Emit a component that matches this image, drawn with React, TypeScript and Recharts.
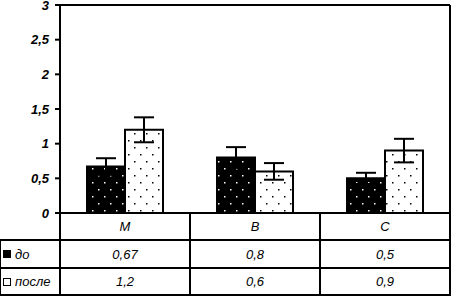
import React from 'react';
import { BarChart, Bar, XAxis, YAxis, ErrorBar, ReferenceLine } from 'recharts';

const categories = ['M', 'B', 'C'];
const beforeValues = [0.67, 0.8, 0.5];
const afterValues = [1.2, 0.6, 0.9];
const beforeErrors = [0.12, 0.15, 0.08];
const afterErrors = [0.18, 0.12, 0.17];
const yTicks = [0, 0.5, 1, 1.5, 2, 2.5, 3];
const seriesNames = ['до', 'после'];

const data = categories.map((c, i) => ({
    name: c,
    before: beforeValues[i],
    after: afterValues[i],
    beforeErr: beforeErrors[i],
    afterErr: afterErrors[i],
}));

const fmt = (v: number) => String(v).replace('.', ',');

const FONT = '"Liberation Sans", Arial, sans-serif';
const COLS = [0, 60, 190, 320, 450];
const ROWS = [213, 240, 268, 295];

const hLine = (x1: number, x2: number, y: number, key: string) => (
    <div key={key} style={{ position: 'absolute', left: x1 - 1, top: y - 1, width: x2 - x1 + 2, height: 2, background: '#000' }} />
);
const vLine = (x: number, y1: number, y2: number, key: string) => (
    <div key={key} style={{ position: 'absolute', left: x - 1, top: y1 - 1, width: 2, height: y2 - y1 + 2, background: '#000' }} />
);

const cellText = (text: string, x1: number, x2: number, y1: number, y2: number, key: string) => (
    <div key={key} style={{
        position: 'absolute', left: x1, top: y1, width: x2 - x1, height: y2 - y1,
        display: 'flex', alignItems: 'center', justifyContent: 'center',
        fontFamily: FONT, fontStyle: 'italic', fontSize: 13, color: '#000',
    }}>{text}</div>
);

export default function App() {
    const rows = [beforeValues, afterValues];
    return (
        <div style={{ position: 'fixed', left: 0, top: 0, width: 452, height: 297, background: '#fff', overflow: 'hidden' }}>
            <div style={{ position: 'absolute', left: 0, top: -10 }}>
                <BarChart width={452} height={240} data={data} margin={{ top: 15, right: 0, left: 0, bottom: 16 }} barGap={0} barSize={38}>
                    <defs>
                        <pattern id="darkDots" width="12" height="14" patternUnits="userSpaceOnUse">
                            <rect width="12" height="14" fill="#000" />
                            <rect x="2" y="3" width="1.5" height="1.5" fill="#fff" />
                            <rect x="8" y="10" width="1.5" height="1.5" fill="#fff" />
                        </pattern>
                        <pattern id="lightDots" width="12" height="14" patternUnits="userSpaceOnUse">
                            <rect width="12" height="14" fill="#fff" />
                            <rect x="2" y="3" width="1.5" height="1.5" fill="#000" />
                            <rect x="8" y="10" width="1.5" height="1.5" fill="#000" />
                        </pattern>
                    </defs>
                    <XAxis dataKey="name" tick={false} tickLine={false} height={1} axisLine={{ stroke: '#000', strokeWidth: 2 }} />
                    <YAxis
                        domain={[0, 3]}
                        ticks={yTicks}
                        interval={0}
                        width={60}
                        tickSize={5}
                        tickMargin={6}
                        tickFormatter={fmt}
                        axisLine={{ stroke: '#000', strokeWidth: 2 }}
                        tickLine={{ stroke: '#000', strokeWidth: 2 }}
                        tick={{ fill: '#000', fontFamily: FONT, fontSize: 13, fontWeight: 'bold', fontStyle: 'italic' }}
                    />
                    <YAxis yAxisId="r" orientation="right" domain={[0, 3]} width={2} tick={false} tickLine={false} axisLine={{ stroke: '#000', strokeWidth: 2 }} />
                    <ReferenceLine y={3} stroke="#000" strokeWidth={2} />
                    <Bar dataKey="before" name={seriesNames[0]} fill="url(#darkDots)" stroke="#000" strokeWidth={2} isAnimationActive={false}>
                        <ErrorBar dataKey="beforeErr" width={10} stroke="#000" strokeWidth={2} />
                    </Bar>
                    <Bar dataKey="after" name={seriesNames[1]} fill="url(#lightDots)" stroke="#000" strokeWidth={2} isAnimationActive={false}>
                        <ErrorBar dataKey="afterErr" width={10} stroke="#000" strokeWidth={2} />
                    </Bar>
                </BarChart>
            </div>
            {hLine(0, 450, ROWS[1], 'h1')}
            {hLine(0, 450, ROWS[2], 'h2')}
            {hLine(0, 450, ROWS[3], 'h3')}
            {vLine(0, ROWS[1], ROWS[3], 'v0')}
            {COLS.slice(1).map((x, i) => vLine(x, ROWS[0], ROWS[3], 'v' + (i + 1)))}
            {categories.map((c, i) => cellText(c, COLS[i + 1], COLS[i + 2], ROWS[0], ROWS[1], 'c' + i))}
            {rows.map((vals, r) =>
                vals.map((v, i) => cellText(fmt(v), COLS[i + 1], COLS[i + 2], ROWS[r + 1], ROWS[r + 2], 'r' + r + i))
            )}
            {seriesNames.map((s, r) => (
                <div key={'l' + r} style={{
                    position: 'absolute', left: 3, top: ROWS[r + 1], height: ROWS[r + 2] - ROWS[r + 1],
                    display: 'flex', alignItems: 'center', fontFamily: FONT, fontStyle: 'italic', fontSize: 13, color: '#000',
                }}>
                    <span style={{
                        display: 'inline-block', width: 6, height: 6, marginRight: 4,
                        border: '1px solid #000', background: r === 0 ? '#000' : '#fff',
                    }} />
                    {s}
                </div>
            ))}
        </div>
    );
}
